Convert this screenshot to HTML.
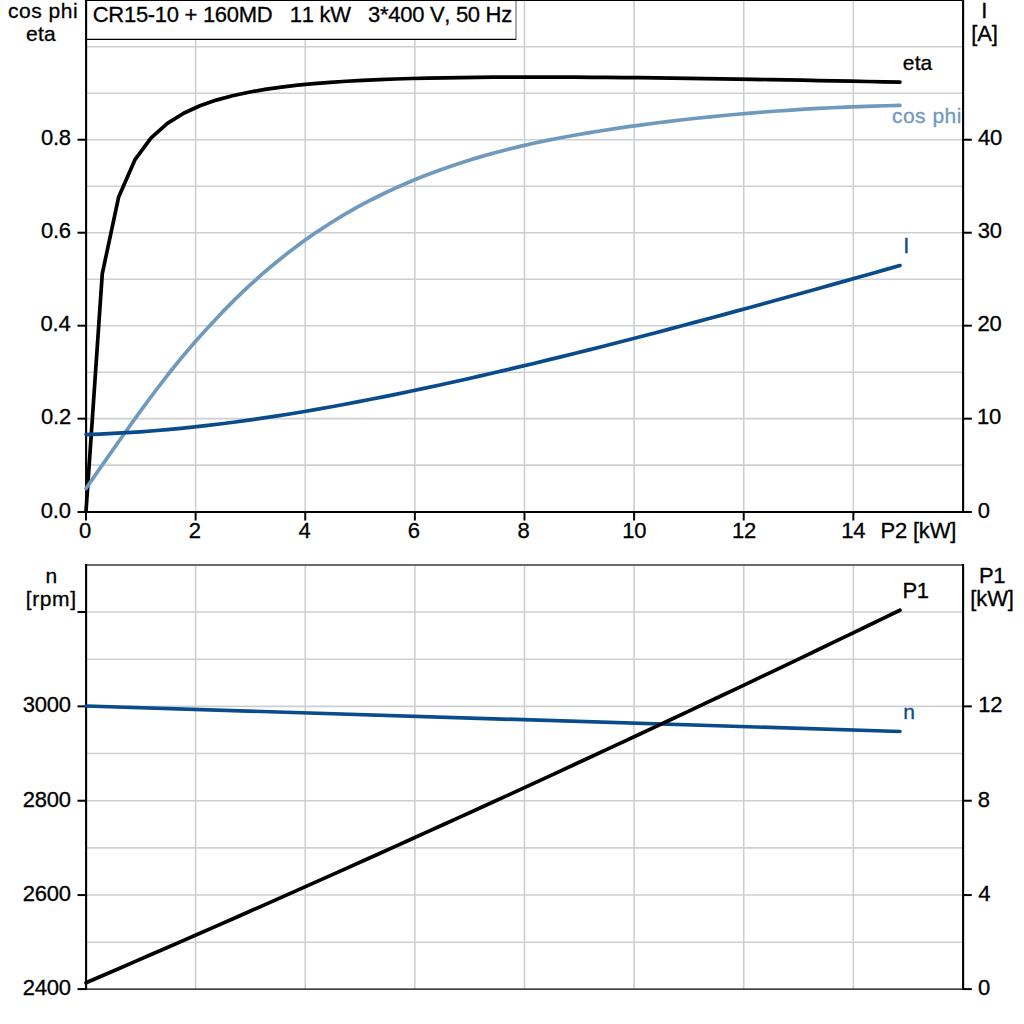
<!DOCTYPE html>
<html lang="en"><head><meta charset="utf-8"><title>CR15-10 + 160MD motor curves</title>
<style>
html,body{margin:0;padding:0;background:#fff;}
svg{display:block;}
text{font-family:"Liberation Sans",Arial,sans-serif;white-space:pre;font-kerning:none;stroke-width:0.3px;}
.g{stroke:#cdd0d3;stroke-width:1.6;fill:none;}
.ax{stroke:#000;stroke-width:2.1;fill:none;}
.tk{stroke:#000;stroke-width:2;fill:none;}
.c{fill:none;stroke-width:3.7;stroke-linecap:round;stroke-linejoin:round;}
</style></head><body>
<svg width="1024" height="1024" viewBox="0 0 1024 1024">
<rect x="0" y="0" width="1024" height="1024" fill="#fff"/>
<g class="g">
<line x1="86.00" y1="465.16" x2="963.00" y2="465.16"/>
<line x1="86.00" y1="418.67" x2="963.00" y2="418.67"/>
<line x1="86.00" y1="372.18" x2="963.00" y2="372.18"/>
<line x1="86.00" y1="325.69" x2="963.00" y2="325.69"/>
<line x1="86.00" y1="279.20" x2="963.00" y2="279.20"/>
<line x1="86.00" y1="232.71" x2="963.00" y2="232.71"/>
<line x1="86.00" y1="186.22" x2="963.00" y2="186.22"/>
<line x1="86.00" y1="139.73" x2="963.00" y2="139.73"/>
<line x1="86.00" y1="93.24" x2="963.00" y2="93.24"/>
<line x1="86.00" y1="46.75" x2="963.00" y2="46.75"/>
<line x1="195.62" y1="0" x2="195.62" y2="512.00"/>
<line x1="305.24" y1="0" x2="305.24" y2="512.00"/>
<line x1="414.86" y1="0" x2="414.86" y2="512.00"/>
<line x1="524.48" y1="0" x2="524.48" y2="512.00"/>
<line x1="634.10" y1="0" x2="634.10" y2="512.00"/>
<line x1="743.72" y1="0" x2="743.72" y2="512.00"/>
<line x1="853.34" y1="0" x2="853.34" y2="512.00"/>
</g>
<g class="g">
<line x1="86.00" y1="942.23" x2="963.00" y2="942.23"/>
<line x1="86.00" y1="895.06" x2="963.00" y2="895.06"/>
<line x1="86.00" y1="847.89" x2="963.00" y2="847.89"/>
<line x1="86.00" y1="800.72" x2="963.00" y2="800.72"/>
<line x1="86.00" y1="753.55" x2="963.00" y2="753.55"/>
<line x1="86.00" y1="706.38" x2="963.00" y2="706.38"/>
<line x1="86.00" y1="659.21" x2="963.00" y2="659.21"/>
<line x1="86.00" y1="612.04" x2="963.00" y2="612.04"/>
<line x1="195.62" y1="564.80" x2="195.62" y2="989.10"/>
<line x1="305.24" y1="564.80" x2="305.24" y2="989.10"/>
<line x1="414.86" y1="564.80" x2="414.86" y2="989.10"/>
<line x1="524.48" y1="564.80" x2="524.48" y2="989.10"/>
<line x1="634.10" y1="564.80" x2="634.10" y2="989.10"/>
<line x1="743.72" y1="564.80" x2="743.72" y2="989.10"/>
<line x1="853.34" y1="564.80" x2="853.34" y2="989.10"/>
</g>
<rect x="86" y="0" width="430.2" height="39.3" fill="#fff"/>
<line x1="516" y1="0.8" x2="516" y2="39" stroke="#ababab" stroke-width="2"/>
<line x1="86" y1="39.4" x2="516.3" y2="39.4" stroke="#000" stroke-width="1.3"/>
<line x1="85" y1="0.5" x2="964" y2="0.5" stroke="#000" stroke-width="1.1"/>
<line class="ax" x1="86.10" y1="0" x2="86.10" y2="513"/>
<line class="ax" x1="963.10" y1="0" x2="963.10" y2="513"/>
<line class="ax" x1="85" y1="512.00" x2="964.1" y2="512.00"/>
<g class="tk">
<line x1="77.5" y1="512.00" x2="86" y2="512.00"/>
<line x1="963" y1="512.00" x2="971.8" y2="512.00"/>
<line x1="77.5" y1="418.67" x2="86" y2="418.67"/>
<line x1="963" y1="418.67" x2="971.8" y2="418.67"/>
<line x1="77.5" y1="325.69" x2="86" y2="325.69"/>
<line x1="963" y1="325.69" x2="971.8" y2="325.69"/>
<line x1="77.5" y1="232.71" x2="86" y2="232.71"/>
<line x1="963" y1="232.71" x2="971.8" y2="232.71"/>
<line x1="77.5" y1="139.73" x2="86" y2="139.73"/>
<line x1="963" y1="139.73" x2="971.8" y2="139.73"/>
<line x1="86.00" y1="512" x2="86.00" y2="520.5"/>
<line x1="195.62" y1="512" x2="195.62" y2="520.5"/>
<line x1="305.24" y1="512" x2="305.24" y2="520.5"/>
<line x1="414.86" y1="512" x2="414.86" y2="520.5"/>
<line x1="524.48" y1="512" x2="524.48" y2="520.5"/>
<line x1="634.10" y1="512" x2="634.10" y2="520.5"/>
<line x1="743.72" y1="512" x2="743.72" y2="520.5"/>
<line x1="853.34" y1="512" x2="853.34" y2="520.5"/>
</g>
<line x1="86" y1="565" x2="963" y2="565" stroke="#6a6a6a" stroke-width="2"/>
<line x1="85" y1="989.10" x2="964" y2="989.10" stroke="#000" stroke-width="1.3"/>
<line class="ax" x1="86.10" y1="564.00" x2="86.10" y2="989.70"/>
<line class="ax" x1="963.10" y1="564.00" x2="963.10" y2="989.70"/>
<g class="tk">
<line x1="77.5" y1="989.10" x2="86" y2="989.10"/>
<line x1="963" y1="989.10" x2="971.8" y2="989.10"/>
<line x1="77.5" y1="895.06" x2="86" y2="895.06"/>
<line x1="963" y1="895.06" x2="971.8" y2="895.06"/>
<line x1="77.5" y1="800.72" x2="86" y2="800.72"/>
<line x1="963" y1="800.72" x2="971.8" y2="800.72"/>
<line x1="77.5" y1="706.38" x2="86" y2="706.38"/>
<line x1="963" y1="706.38" x2="971.8" y2="706.38"/>
<line x1="77.5" y1="612.04" x2="86" y2="612.04"/>
</g>
<polyline class="c" stroke="#000" points="86.00,511.40 102.28,273.69 118.56,197.34 134.84,159.91 151.11,137.82 167.39,123.35 183.67,113.21 199.95,105.76 216.23,100.10 232.51,95.69 248.79,92.20 265.06,89.38 281.34,87.08 297.62,85.19 313.90,83.63 330.18,82.34 346.46,81.26 362.74,80.37 379.01,79.63 395.29,79.01 411.57,78.51 427.85,78.10 444.13,77.78 460.41,77.53 476.69,77.34 492.96,77.21 509.24,77.12 525.52,77.08 541.80,77.08 558.08,77.12 574.36,77.18 590.64,77.28 606.91,77.40 623.19,77.55 639.47,77.71 655.75,77.90 672.03,78.10 688.31,78.32 704.59,78.56 720.86,78.81 737.14,79.07 753.42,79.34 769.70,79.63 785.98,79.92 802.26,80.22 818.54,80.53 834.81,80.85 851.09,81.18 867.37,81.51 883.65,81.85 899.93,82.20"/>
<polyline class="c" stroke="#7099be" points="86.00,488.45 99.57,468.91 113.13,449.45 126.70,430.21 140.26,411.35 153.83,392.99 167.39,375.28 180.96,358.38 194.52,342.53 208.09,327.39 221.65,312.92 235.22,299.16 248.79,286.18 262.35,273.95 275.92,262.47 289.48,251.68 303.05,241.57 316.61,232.10 330.18,223.24 343.74,214.95 357.31,207.21 370.87,199.98 384.44,193.24 398.01,186.94 411.57,181.07 425.14,175.58 438.70,170.47 452.27,165.69 465.83,161.25 479.40,157.12 492.96,153.27 506.53,149.70 520.10,146.38 533.66,143.30 547.23,140.43 560.79,137.76 574.36,135.26 587.92,132.93 601.49,130.73 615.05,128.66 628.62,126.69 642.18,124.81 655.75,123.03 669.32,121.34 682.88,119.74 696.45,118.23 710.01,116.81 723.58,115.48 737.14,114.23 750.71,113.06 764.27,111.98 777.84,110.98 791.40,110.06 804.97,109.22 818.54,108.46 832.10,107.77 845.67,107.16 859.23,106.62 872.80,106.15 886.36,105.75 899.93,105.43"/>
<polyline class="c" stroke="#0a4b8c" points="86.00,434.54 99.57,434.07 113.13,433.46 126.70,432.70 140.26,431.80 153.83,430.77 167.39,429.61 180.96,428.33 194.52,426.92 208.09,425.39 221.65,423.75 235.22,422.00 248.79,420.14 262.35,418.18 275.92,416.12 289.48,413.97 303.05,411.73 316.61,409.40 330.18,406.98 343.74,404.49 357.31,401.93 370.87,399.30 384.44,396.59 398.01,393.83 411.57,391.01 425.14,388.13 438.70,385.21 452.27,382.23 465.83,379.21 479.40,376.14 492.96,373.03 506.53,369.87 520.10,366.67 533.66,363.44 547.23,360.16 560.79,356.84 574.36,353.49 587.92,350.11 601.49,346.68 615.05,343.23 628.62,339.75 642.18,336.23 655.75,332.69 669.32,329.12 682.88,325.53 696.45,321.91 710.01,318.26 723.58,314.60 737.14,310.91 750.71,307.21 764.27,303.48 777.84,299.74 791.40,295.99 804.97,292.22 818.54,288.44 832.10,284.65 845.67,280.85 859.23,277.04 872.80,273.22 886.36,269.40 899.93,265.57"/>
<polyline class="c" stroke="#0a4b8c" points="86.00,706.00 899.93,731.50"/>
<polyline class="c" stroke="#000" points="86.00,982.73 102.28,975.71 118.56,968.68 134.84,961.62 151.11,954.55 167.39,947.47 183.67,940.36 199.95,933.24 216.23,926.10 232.51,918.94 248.79,911.77 265.06,904.57 281.34,897.36 297.62,890.14 313.90,882.89 330.18,875.63 346.46,868.34 362.74,861.05 379.01,853.73 395.29,846.39 411.57,839.04 427.85,831.67 444.13,824.29 460.41,816.88 476.69,809.46 492.96,802.02 509.24,794.56 525.52,787.09 541.80,779.59 558.08,772.08 574.36,764.55 590.64,757.01 606.91,749.44 623.19,741.86 639.47,734.26 655.75,726.65 672.03,719.01 688.31,711.36 704.59,703.69 720.86,696.00 737.14,688.30 753.42,680.57 769.70,672.83 785.98,665.08 802.26,657.30 818.54,649.51 834.81,641.70 851.09,633.87 867.37,626.02 883.65,618.16 899.93,610.27"/>
<text x="92.78" y="22.30" style="font-size:22px;letter-spacing:-0.298px;fill:#000;stroke:#000">CR15-10 + 160MD   11 kW   3*400 V, 50 Hz</text>
<text x="8.11" y="18.00" style="font-size:21px;letter-spacing:0.495px;fill:#000;stroke:#000">cos phi</text>
<text x="26.11" y="40.90" style="font-size:21px;letter-spacing:0.150px;fill:#000;stroke:#000">eta</text>
<text x="981.34" y="18.00" style="font-size:22px;letter-spacing:0.000px;fill:#000;stroke:#000">I</text>
<text x="971.33" y="40.90" style="font-size:22px;letter-spacing:-0.231px;fill:#000;stroke:#000">[A]</text>
<text x="45.50" y="583.00" style="font-size:21px;letter-spacing:0.000px;fill:#000;stroke:#000">n</text>
<text x="25.70" y="605.60" style="font-size:21px;letter-spacing:0.615px;fill:#000;stroke:#000">[rpm]</text>
<text x="978.90" y="583.00" style="font-size:22px;letter-spacing:-0.400px;fill:#000;stroke:#000">P1</text>
<text x="970.13" y="605.60" style="font-size:22px;letter-spacing:-0.051px;fill:#000;stroke:#000">[kW]</text>
<text x="40.84" y="517.70" style="font-size:22px;letter-spacing:-0.230px;fill:#000;stroke:#000">0.0</text>
<text x="977.74" y="517.70" style="font-size:22px;letter-spacing:-0.230px;fill:#000;stroke:#000">0</text>
<text x="41.08" y="424.37" style="font-size:22px;letter-spacing:-0.230px;fill:#000;stroke:#000">0.2</text>
<text x="976.92" y="424.37" style="font-size:22px;letter-spacing:-0.230px;fill:#000;stroke:#000">10</text>
<text x="40.62" y="331.39" style="font-size:22px;letter-spacing:-0.230px;fill:#000;stroke:#000">0.4</text>
<text x="977.49" y="331.39" style="font-size:22px;letter-spacing:-0.230px;fill:#000;stroke:#000">20</text>
<text x="40.94" y="238.41" style="font-size:22px;letter-spacing:-0.230px;fill:#000;stroke:#000">0.6</text>
<text x="977.76" y="238.41" style="font-size:22px;letter-spacing:-0.230px;fill:#000;stroke:#000">30</text>
<text x="40.93" y="145.43" style="font-size:22px;letter-spacing:-0.230px;fill:#000;stroke:#000">0.8</text>
<text x="978.10" y="145.43" style="font-size:22px;letter-spacing:-0.230px;fill:#000;stroke:#000">40</text>
<text x="79.08" y="537.80" style="font-size:22px;letter-spacing:-0.230px;fill:#000;stroke:#000">0</text>
<text x="188.70" y="537.80" style="font-size:22px;letter-spacing:-0.230px;fill:#000;stroke:#000">2</text>
<text x="298.39" y="537.80" style="font-size:22px;letter-spacing:-0.230px;fill:#000;stroke:#000">4</text>
<text x="407.87" y="537.80" style="font-size:22px;letter-spacing:-0.230px;fill:#000;stroke:#000">6</text>
<text x="517.56" y="537.80" style="font-size:22px;letter-spacing:-0.230px;fill:#000;stroke:#000">8</text>
<text x="622.17" y="537.80" style="font-size:22px;letter-spacing:-0.230px;fill:#000;stroke:#000">10</text>
<text x="731.91" y="537.80" style="font-size:22px;letter-spacing:-0.230px;fill:#000;stroke:#000">12</text>
<text x="841.30" y="537.80" style="font-size:22px;letter-spacing:-0.230px;fill:#000;stroke:#000">14</text>
<text x="880.40" y="537.60" style="font-size:22px;letter-spacing:-0.173px;fill:#000;stroke:#000">P2 [kW]</text>
<text x="22.71" y="994.90" style="font-size:22px;letter-spacing:-0.230px;fill:#000;stroke:#000">2400</text>
<text x="977.94" y="994.90" style="font-size:22px;letter-spacing:-0.230px;fill:#000;stroke:#000">0</text>
<text x="22.71" y="900.86" style="font-size:22px;letter-spacing:-0.230px;fill:#000;stroke:#000">2600</text>
<text x="978.30" y="900.86" style="font-size:22px;letter-spacing:-0.230px;fill:#000;stroke:#000">4</text>
<text x="22.71" y="806.52" style="font-size:22px;letter-spacing:-0.230px;fill:#000;stroke:#000">2800</text>
<text x="977.84" y="806.52" style="font-size:22px;letter-spacing:-0.230px;fill:#000;stroke:#000">8</text>
<text x="22.71" y="712.18" style="font-size:22px;letter-spacing:-0.230px;fill:#000;stroke:#000">3000</text>
<text x="978.32" y="712.18" style="font-size:22px;letter-spacing:-0.230px;fill:#000;stroke:#000">12</text>
<text x="902.86" y="69.70" style="font-size:21px;letter-spacing:0.125px;fill:#000;stroke:#000">eta</text>
<text x="891.91" y="123.40" style="font-size:21px;letter-spacing:0.495px;fill:#7099be;stroke:#7099be">cos phi</text>
<text x="903.24" y="253.00" style="font-size:22px;letter-spacing:0.000px;fill:#0a4b8c;stroke:#0a4b8c">I</text>
<text x="902.50" y="597.60" style="font-size:22px;letter-spacing:-0.400px;fill:#000;stroke:#000">P1</text>
<text x="903.35" y="718.80" style="font-size:21px;letter-spacing:0.000px;fill:#0a4b8c;stroke:#0a4b8c">n</text>
</svg>
</body></html>
